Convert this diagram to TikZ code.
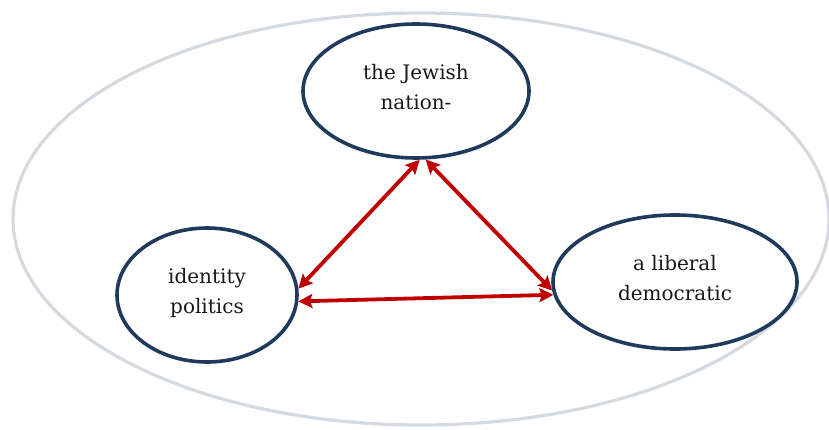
\documentclass[tikz,border=0pt]{standalone}
\usepackage{fontspec}
\setmainfont{DejaVu Serif}
\usetikzlibrary{shapes.geometric,arrows.meta}
\definecolor{navy}{HTML}{1F3A5C}
\definecolor{outergray}{HTML}{D5DAE0}
\definecolor{arrowred}{HTML}{C00000}
\begin{document}
\begin{tikzpicture}[x=1pt,y=-1pt,
  bubble/.style={ellipse,draw=navy,line width=3.6pt,fill=white,inner sep=0pt,
    align=center,font=\fontsize{20}{30}\selectfont,text=black!90},
  link/.style={draw=arrowred,line width=3.8pt,
    {Stealth[length=14pt,width=14pt,inset=2.5pt]}-{Stealth[length=14pt,width=14pt,inset=2.5pt]}}]
\useasboundingbox (0,0) rectangle (829,430);
\begin{scope}
\clip (0,0) rectangle (829,430);
\draw[outergray,line width=3.2pt] (421,219) ellipse [x radius=408, y radius=206];
\end{scope}
\node[bubble,minimum width=226pt,minimum height=134pt] (jew) at (416,91) {the Jewish\\nation-\\[-22pt]\mbox{}};
\node[bubble,minimum width=180pt,minimum height=134pt] (idp) at (207,295) {identity\\politics\\[-22pt]\mbox{}};
\node[bubble,minimum width=244pt,minimum height=134pt] (lib) at (675,282) {a liberal\\democratic\\[-22pt]\mbox{}};
\draw[link] (jew.-87) -- (idp.4);
\draw[link] (jew.-82) -- (lib.184);
\draw[link] (idp.-4) -- (lib.186);
\end{tikzpicture}
\end{document}
